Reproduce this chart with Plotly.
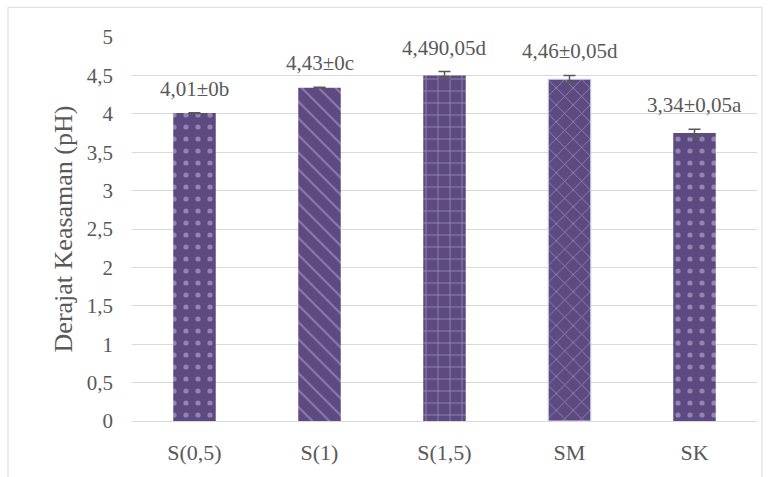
import plotly.graph_objects as go

categories = ["S(0,5)", "S(1)", "S(1,5)", "SM", "SK"]
values = [4.01, 4.34, 4.50, 4.45, 3.75]
errors = [0.005, 0.005, 0.05, 0.05, 0.05]
labels = ["4,01±0b", "4,43±0c", "4,490,05d", "4,46±0,05d", "3,34±0,05a"]
patterns = [".", "\\", "+", "x", "."]
y_title = "Derajat Keasaman (pH)"

FONT = "Liberation Serif"
TXT = "#595959"
BAR = "#5c4a80"
PAT = "#cbb9e6"

fig = go.Figure()
fig.add_trace(go.Bar(
    x=categories,
    y=values,
    width=0.34,
    marker=dict(
        color=BAR,
        line=dict(color=["rgba(0,0,0,0)", "rgba(0,0,0,0)", "rgba(0,0,0,0)", "#c9d3f2", "rgba(0,0,0,0)"], width=1),
        pattern=dict(shape=patterns, fgcolor=PAT, bgcolor=BAR, size=12, solidity=0.15, fillmode="overlay"),
    ),
    error_y=dict(type="data", array=errors, visible=True, color="#595959", thickness=1.5, width=6),
    showlegend=False,
))

for c, v, e, t in zip(categories, values, errors, labels):
    fig.add_annotation(x=c, y=v + e, text=t, showarrow=False, yanchor="bottom",
                       yshift=10, font=dict(family=FONT, size=21, color=TXT))

fig.add_shape(type="rect", xref="paper", yref="paper",
              x0=-0.1984, x1=1.008, y0=-0.3, y1=1.0775,
              line=dict(color="#d9d9d9", width=1), fillcolor="rgba(0,0,0,0)", layer="below")

fig.update_layout(
    width=769, height=477,
    margin=dict(l=132, r=12, t=37, b=53),
    paper_bgcolor="white", plot_bgcolor="white",
    separators=",.",
    font=dict(family=FONT, color=TXT, size=21),
    xaxis=dict(showgrid=False, showline=True, linecolor="#d9d9d9", linewidth=1,
               ticks="", tickfont=dict(family=FONT, size=22, color=TXT), ticklabelstandoff=12),
    yaxis=dict(range=[0, 5], dtick=0.5, showgrid=True, gridcolor="#d9d9d9", gridwidth=1,
               zeroline=False, showline=False, ticks="",
               tickfont=dict(family=FONT, size=21, color=TXT), ticklabelstandoff=18,
               title=dict(text=y_title, font=dict(family=FONT, size=26, color=TXT), standoff=6)),
)

fig.write_html("out.html")
